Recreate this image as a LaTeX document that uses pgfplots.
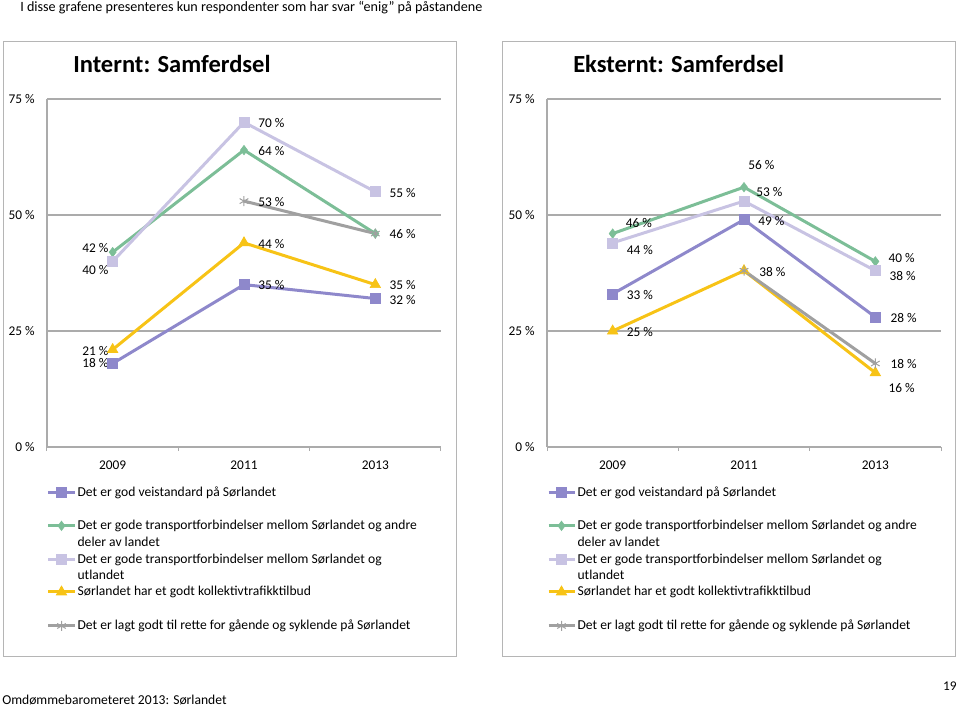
\documentclass[border=0pt]{standalone}
\usepackage{pgfplots}
\pgfplotsset{compat=1.18}
\usepackage{fontspec}
\setmainfont{Carlito}

\definecolor{cPur}{HTML}{8E88CB}
\definecolor{cGrn}{HTML}{7CBE97}
\definecolor{cLav}{HTML}{C8C3E3}
\definecolor{cYel}{HTML}{F7C316}
\definecolor{cGry}{HTML}{A0A0A0}
\definecolor{cAx}{HTML}{ABABAB}
\definecolor{cBox}{HTML}{B5B5B5}

\newcommand\PP[2]{({(#1)*0.75pt},{-(#2)*0.75pt})}
% data label: x, value, anchor, dx(px), dy(px, up)
\newcommand\lab[5]{\node[anchor=#3, xshift=#4*0.75pt, yshift=#5*0.75pt, inner sep=0pt,
   font=\fontsize{10}{12}\selectfont] at (axis cs:#1,#2) {#2~\%};}

\pgfplotsset{
 panel/.style={
  scale only axis, width=295.5pt, height=261pt,
  xmin=0.5, xmax=3.5, ymin=0, ymax=75,
  xtick={1,2,3}, xticklabels={2009,2011,2013},
  minor xtick={0.5,1.5,2.5,3.5},
  ytick={0,25,50,75},
  yticklabel={\pgfmathprintnumber{\tick}~\%},
  major tick length=0pt, minor tick length=3pt, tick align=outside,
  minor tick style={draw=cAx, line width=0.75pt},
  ymajorgrids, major grid style={draw=cAx, line width=0.9pt},
  axis x line*=bottom, axis y line*=left,
  axis line style={draw=cAx, line width=0.9pt, -},
  tick label style={font=\fontsize{10}{12}\selectfont, inner sep=0pt, text=black},
  /pgf/number format/assume math mode=true,
  xticklabel style={yshift=-10.5pt},
  yticklabel style={xshift=-9pt},
  clip=false,
  legend style={at={(0,0)}, anchor=north west, yshift=-28.2pt, draw=none, fill=none,
    inner sep=0pt, outer sep=0pt, row sep=0pt, column sep=1.2pt,
    nodes={inner sep=0pt, outer sep=0pt}, cells={anchor=base west},
    font=\fontsize{10.2}{12.4}\selectfont},
  legend image code/.code={\draw[mark repeat=2,mark phase=2,##1] plot coordinates {(0pt,2.8pt) (9.75pt,2.8pt) (19.5pt,2.8pt)};},
 },
 ser/.style={color=#1, line width=2.25pt, mark options={solid, fill=#1, draw=#1, line width=0.5pt}},
}

\newcommand\legA{\addlegendentry{\parbox[t]{300pt}{\strut Det er god veistandard på Sørlandet}}}
\newcommand\legB{\addlegendentry{\parbox[t]{300pt}{\rule{0pt}{23.55pt}Det er gode transportforbindelser mellom Sørlandet og andre\\deler av landet}}}
\newcommand\legC{\addlegendentry{\parbox[t]{300pt}{\rule{0pt}{23.8pt}Det er gode transportforbindelser mellom Sørlandet og\\utlandet}}}
\newcommand\legD{\addlegendentry{\parbox[t]{300pt}{\rule{0pt}{22.8pt}Sørlandet har et godt kollektivtrafikktilbud}}}
\newcommand\legE{\addlegendentry{\parbox[t]{300pt}{\rule{0pt}{24pt}Det er lagt godt til rette for gående og syklende på Sørlandet}}}

\begin{document}
\begin{tikzpicture}
\path[use as bounding box] \PP{0}{0} rectangle \PP{960}{708};

\draw[cBox, line width=0.75pt] \PP{3}{41} rectangle \PP{456}{656};
\draw[cBox, line width=0.75pt] \PP{502}{41} rectangle \PP{955}{656};

% ---------------- Internt ----------------
\begin{axis}[panel, at={(35.25pt,-335.25pt)}, anchor=south west]
\addplot[ser=cPur, mark=square*, mark size=3.75pt] coordinates {(1,18) (2,35) (3,32)}; \legA
\addplot[ser=cGrn, mark=diamond*, mark size=3.5pt] coordinates {(1,42) (2,64) (3,46)}; \legB
\addplot[ser=cLav, mark=square*, mark size=3.75pt] coordinates {(1,40) (2,70) (3,55)}; \legC
\addplot[ser=cYel, mark=triangle*, mark size=4.5pt] coordinates {(1,21) (2,44) (3,35)}; \legD
\addplot[ser=cGry, mark=asterisk, mark size=3.75pt, mark options={line width=0.75pt}] coordinates {(2,53) (3,46)}; \legE
\lab{1}{18}{east}{-4}{0} \lab{2}{35}{west}{14}{0} \lab{3}{32}{west}{14}{-1}
\lab{1}{42}{east}{-4}{4} \lab{2}{64}{west}{14}{-1} \lab{3}{46}{west}{14}{0}
\lab{1}{40}{east}{-4}{-9} \lab{2}{70}{west}{14}{-1} \lab{3}{55}{west}{14}{-1}
\lab{1}{21}{east}{-4}{-1} \lab{2}{44}{west}{14}{-1} \lab{3}{35}{west}{14}{0}
\lab{2}{53}{west}{14}{-1}
\end{axis}

% ---------------- Eksternt ----------------
\begin{axis}[panel, at={(410.25pt,-335.25pt)}, anchor=south west]
\addplot[ser=cPur, mark=square*, mark size=3.75pt] coordinates {(1,33) (2,49) (3,28)}; \legA
\addplot[ser=cGrn, mark=diamond*, mark size=3.5pt] coordinates {(1,46) (2,56) (3,40)}; \legB
\addplot[ser=cLav, mark=square*, mark size=3.75pt] coordinates {(1,44) (2,53) (3,38)}; \legC
\addplot[ser=cYel, mark=triangle*, mark size=4.5pt] coordinates {(1,25) (2,38) (3,16)}; \legD
\addplot[ser=cGry, mark=asterisk, mark size=3.75pt, mark options={line width=0.75pt}] coordinates {(2,38) (3,18)}; \legE
\lab{1}{33}{west}{14}{-1} \lab{2}{49}{west}{14}{-1} \lab{3}{28}{west}{15}{-1}
\lab{1}{46}{west}{13}{11} \lab{2}{56}{west}{4}{22} \lab{3}{40}{west}{13}{3}
\lab{1}{44}{west}{14}{-7.5} \lab{2}{53}{west}{12}{9} \lab{3}{38}{west}{14}{-5}
\lab{1}{25}{west}{14}{-1} \lab{2}{38}{west}{15}{-1} \lab{3}{16}{west}{13}{-15.5}
\lab{3}{18}{west}{15}{-1}
\end{axis}

\node[anchor=base west, inner sep=0pt, font=\fontsize{10.6}{12}\selectfont] at \PP{20}{11} {I disse grafene presenteres kun respondenter som har svar “enig” på påstandene};
\node[anchor=base west, inner sep=0pt, font=\bfseries\fontsize{18.4}{21}\selectfont] at \PP{73}{72} {Internt: Samferdsel};
\node[anchor=base west, inner sep=0pt, font=\bfseries\fontsize{18.4}{21}\selectfont] at \PP{573}{72} {Eksternt: Samferdsel};
\node[anchor=base west, inner sep=0pt, font=\fontsize{10.2}{12}\selectfont] at \PP{2}{704} {Omdømmebarometeret 2013: Sørlandet};
\node[anchor=base east, inner sep=0pt, font=\fontsize{10}{12}\selectfont] at \PP{957}{690} {19};
\end{tikzpicture}
\end{document}
